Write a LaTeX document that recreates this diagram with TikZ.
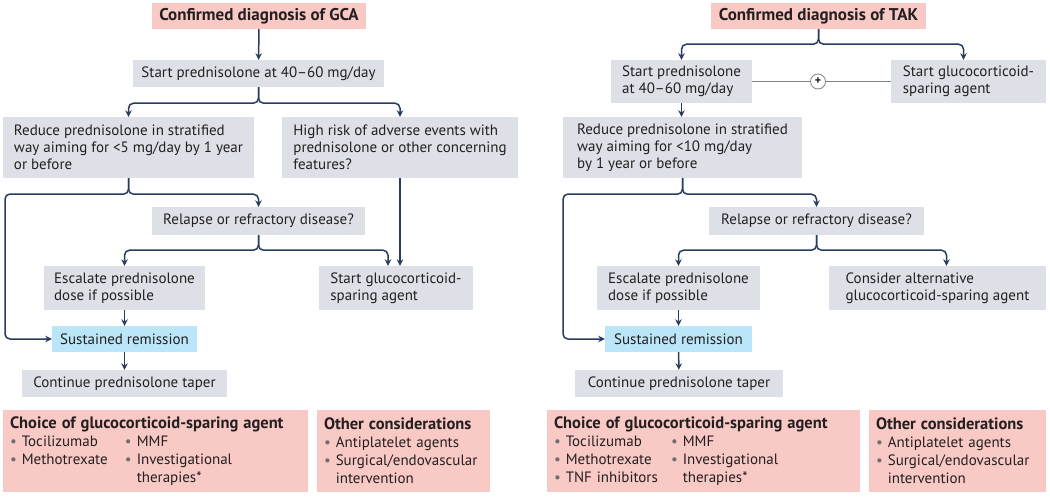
\documentclass[tikz,border=0pt]{standalone}
\usepackage{fontspec}
\setmainfont{PT Sans}
\usetikzlibrary{arrows.meta}
\definecolor{pk}{RGB}{249,201,197}
\definecolor{gr}{RGB}{221,225,231}
\definecolor{bl}{RGB}{187,230,248}
\definecolor{nv}{RGB}{40,60,95}
\definecolor{txt}{RGB}{35,31,32}
\definecolor{bulc}{RGB}{110,110,110}
\definecolor{plc}{RGB}{130,130,130}
\newcommand{\mainfs}{\fontsize{15}{17}\selectfont}
\newcommand{\listfs}{\fontsize{15}{18}\selectfont}
\newcommand{\hdr}[1]{{\fontsize{16.5}{18}\selectfont\bfseries #1}}
\newcommand{\mybul}{{\color{bulc}\textbullet}\ }
\newcommand{\mybulsp}{\hphantom{\textbullet\ }}
\tikzset{
  box/.style={rectangle, inner xsep=7pt, inner ysep=0pt, align=left, font=\mainfs, text=txt},
  gbox/.style={box, fill=gr},
  pbox/.style={box, fill=pk},
  bbox/.style={box, fill=bl},
  listbox/.style={pbox, font=\listfs},
  titlebox/.style={pbox, align=center, font=\fontsize{17}{17}\selectfont\bfseries},
  sz/.style 2 args={minimum width=#1pt, minimum height=#2pt},
  arr/.style={draw=nv, line width=1.5pt, -{Stealth[length=6.5pt,width=6.5pt]}, rounded corners=5pt},
  plusline/.style={draw=plc, line width=0.8pt},
  pluscirc/.style={circle, draw=plc, line width=0.8pt, fill=white, inner sep=0pt, minimum size=15pt, font=\fontsize{12}{12}\selectfont\bfseries, text=txt},
}
\begin{document}
\begin{tikzpicture}[x=1pt, y=-1pt]
\useasboundingbox (0,0) rectangle (1050,496);
% ---------------- GCA ----------------
\node[titlebox, sz={212}{26}] (gca) at (259,16) {Confirmed diagnosis of GCA};
\node[gbox, sz={251}{27}] (sp1) at (258.5,73.5) {Start prednisolone at 40--60 mg/day};
\node[gbox, sz={251}{61}] (red1) at (128.5,147.5) {Reduce prednisolone in stratified\\way aiming for <5 mg/day by 1 year\\or before};
\node[gbox, sz={236}{61}] (hr) at (400,147.5) {High risk of adverse events with\\prednisolone or other concerning\\features?};
\node[gbox, sz={213}{28}] (rel1) at (258.5,221) {Relapse or refractory disease?};
\node[gbox, sz={161}{44}] (esc1) at (124.5,288) {Escalate prednisolone\\dose if possible};
\node[gbox, sz={154}{44}] (sg1) at (396,288) {Start glucocorticoid-\\sparing agent};
\node[bbox, sz={145}{26}] (sr1) at (124.5,339) {Sustained remission};
\node[gbox, sz={205}{27}] (ct1) at (124.5,383.5) {Continue prednisolone taper};
\node[listbox, sz={305}{82}, text width=291pt] (ch1) at (155.5,451) {\hdr{Choice of glucocorticoid-sparing agent}\\
\makebox[115pt][l]{\mybul Tocilizumab}\mybul MMF\\
\makebox[115pt][l]{\mybul Methotrexate}\mybul Investigational\\
\hspace{115pt}\mybulsp therapies*};
\node[listbox, sz={173}{82}, text width=159pt] (oc1) at (403.5,451) {\hdr{Other considerations}\\
\mybul Antiplatelet agents\\
\mybul Surgical/endovascular\\
\mybulsp intervention};

\draw[arr] (gca) -- (sp1);
\draw[arr] (sp1.south) -- ++(0,16) -| (red1.north);
\draw[arr] (sp1.south) -- ++(0,16) -| (hr.north);
\draw[arr] (red1.south) -- ++(0,16) -- (5,194) |- (sr1.west);
\draw[arr] (red1.south) -- ++(0,16) -| (rel1.north);
\draw[arr] (hr.south) -- (hr.south |- sg1.north);
\draw[arr] (rel1.south) -- ++(0,15) -| (esc1.north);
\draw[arr] (rel1.south) -- ++(0,15) -| ([xshift=-8pt]sg1.north);
\draw[arr] (esc1) -- (sr1);
\draw[arr] (sr1) -- (ct1);

% ---------------- TAK ----------------
\node[titlebox, sz={215}{26}] (tak) at (818.5,16) {Confirmed diagnosis of TAK};
\node[gbox, sz={141}{43}] (sp2) at (681.5,81.5) {Start prednisolone\\at 40--60 mg/day};
\node[gbox, sz={155}{43}] (sg2) at (968.5,81.5) {Start glucocorticoid-\\sparing agent};
\node[pluscirc] (plus) at (818,81.5) {+};
\node[gbox, sz={239}{61}] (red2) at (682.5,147.5) {Reduce prednisolone in stratified\\way aiming for <10 mg/day\\by 1 year or before};
\node[gbox, sz={215}{28}] (rel2) at (816.5,221) {Relapse or refractory disease?};
\node[gbox, sz={163}{44}] (esc2) at (678.5,288) {Escalate prednisolone\\dose if possible};
\node[gbox, sz={217}{44}] (ca2) at (937.5,288) {Consider alternative\\glucocorticoid-sparing agent};
\node[bbox, sz={147}{26}] (sr2) at (678.5,339) {Sustained remission};
\node[gbox, sz={208}{27}] (ct2) at (679,383.5) {Continue prednisolone taper};
\node[listbox, sz={313}{82}, text width=299pt] (ch2) at (703.5,451) {\hdr{Choice of glucocorticoid-sparing agent}\\
\makebox[117pt][l]{\mybul Tocilizumab}\mybul MMF\\
\makebox[117pt][l]{\mybul Methotrexate}\mybul Investigational\\
\makebox[117pt][l]{\mybul TNF inhibitors}\mybulsp therapies*};
\node[listbox, sz={177}{82}, text width=163pt] (oc2) at (957.5,451) {\hdr{Other considerations}\\
\mybul Antiplatelet agents\\
\mybul Surgical/endovascular\\
\mybulsp intervention};

\draw[plusline] (sp2.east) -- (plus);
\draw[plusline] (plus) -- (sg2.west);
\draw[arr] (tak.south) -- ++(0,15) -| (sp2.north);
\draw[arr] (tak.south) -- ++(0,15) -| ([xshift=-5pt]sg2.north);
\draw[arr] (sp2.south) -- (sp2.south |- red2.north);
\draw[arr] (red2.south) -- ++(0,16) -- (563,194) |- (sr2.west);
\draw[arr] (red2.south) -- ++(0,16) -| (rel2.north);
\draw[arr] (rel2.south) -- ++(0,15) -| (esc2.north);
\draw[arr] (rel2.south) -- ++(0,15) -| ([xshift=9pt]ca2.north);
\draw[arr] (esc2) -- (sr2);
\draw[arr] (sr2) -- (ct2);
\end{tikzpicture}
\end{document}
